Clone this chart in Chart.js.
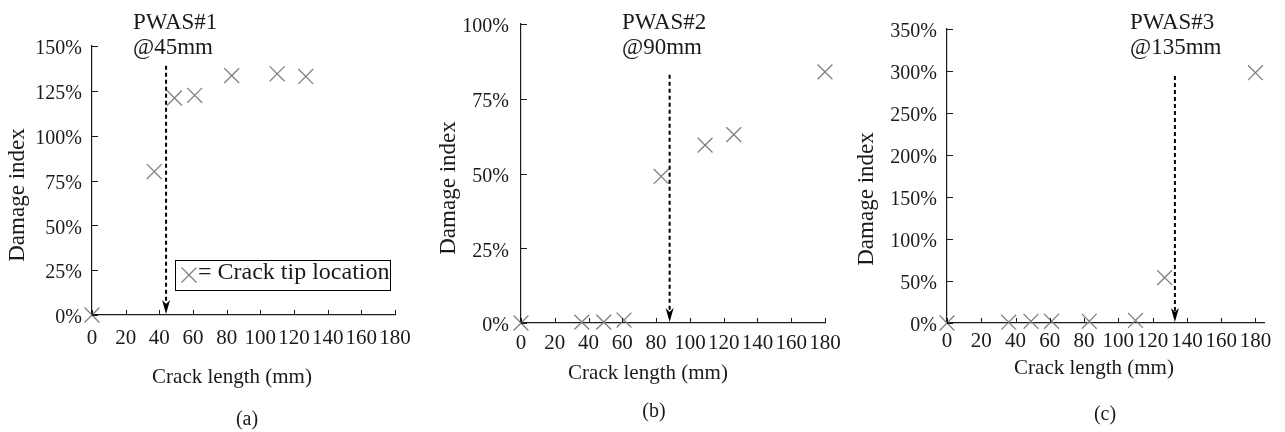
<!DOCTYPE html>
<html>
<head>
<meta charset="utf-8">
<script src="https://cdn.jsdelivr.net/npm/chart.js@4"></script>
<style>
  body { margin: 0; background: #fff; }
  #wrap { position: relative; width: 1285px; height: 432px; overflow: hidden; }
  canvas { position: absolute; top: 0; }
</style>
</head>
<body>
<div id="wrap">
  <canvas id="chartA" width="430" height="432" style="left:0px"></canvas>
  <canvas id="chartB" width="430" height="432" style="left:425px"></canvas>
  <canvas id="chartC" width="430" height="432" style="left:855px"></canvas>
</div>
<script>
// crack length (mm) vs damage index (%) for each sensor
const crackA = [0, 37, 49, 61, 83, 110, 127];
const damageA = [0, 80, 121, 122.5, 133.5, 134.5, 133];

const crackB = [0, 36, 49, 61, 83, 109, 126, 180];
const damageB = [0, 0.3, 0.3, 1, 49, 59.5, 63, 84];

const crackC = [0, 36, 49, 61, 83, 110, 127, 180];
const damageC = [0, 1, 2, 2, 2, 3, 54, 298];

// tick labels
const xTicks = [0, 20, 40, 60, 80, 100, 120, 140, 160, 180];
const yTicksA = [0, 25, 50, 75, 100, 125, 150];
const yTicksB = [0, 25, 50, 75, 100];
const yTicksC = [0, 50, 100, 150, 200, 250, 300, 350];

// sensor annotation (arrow = sensor position)
const sensorNames = ['PWAS#1', 'PWAS#2', 'PWAS#3'];
const sensorPos = ['@45mm', '@90mm', '@135mm'];
const arrowX = [44, 88, 133];
const arrowTop = [139, 83, 294];
const captions = ['(a)', '(b)', '(c)'];

const SERIF = "'Liberation Serif', 'Times New Roman', serif";
const INK = '#1a1a1a';
const MARK = '#808080';

// pixel layout for each panel (canvas local)
const layouts = [
  {area: {l: 92, t: 46, r: 395, b: 315}, xMax: 180, xPad: 11, yPad: 10, yTitle: [18, 195], xTitle: [232, 377], caption: [247, 420], textX: 133, legend: true},
  {area: {l: 96, t: 15, r: 400, b: 323}, xMax: 180, xPad: 8, yPad: 12, yTitle: [24, 188], xTitle: [223, 373], caption: [229, 412], textX: 197, legend: false},
  {area: {l: 92, t: 29, r: 409, b: 323}, xMax: 185, xPad: 6, yPad: 10, yTitle: [12, 199], xTitle: [239, 368], caption: [250, 415], textX: 275, legend: false},
];

function drawCross(ctx, x, y, h) {
  ctx.beginPath();
  ctx.moveTo(x - h, y - h);
  ctx.lineTo(x + h, y + h);
  ctx.moveTo(x + h, y - h);
  ctx.lineTo(x - h, y + h);
  ctx.stroke();
}

// draws inward ticks, sensor arrow, and the text bits
function overlayPlugin(i) {
  const lay = layouts[i];
  return {
    id: 'overlay' + i,
    afterDraw(chart) {
      const ctx = chart.ctx;
      const area = chart.chartArea;
      const xs = chart.scales.x;
      const ys = chart.scales.y;
      ctx.save();

      // inward tick marks
      ctx.strokeStyle = INK;
      ctx.lineWidth = 1;
      ctx.beginPath();
      xs.ticks.forEach(t => {
        const px = Math.round(xs.getPixelForValue(t.value)) + 0.5;
        ctx.moveTo(px, area.bottom);
        ctx.lineTo(px, area.bottom - 5);
      });
      ys.ticks.forEach(t => {
        const py = Math.round(ys.getPixelForValue(t.value)) + 0.5;
        ctx.moveTo(area.left, py);
        ctx.lineTo(area.left + 6, py);
      });
      ctx.stroke();

      // dashed arrow down to the sensor location
      const ax = xs.getPixelForValue(arrowX[i]);
      const aTop = ys.getPixelForValue(arrowTop[i]);
      const aBot = area.bottom - 1;
      ctx.strokeStyle = '#000';
      ctx.lineWidth = 2;
      ctx.setLineDash([4, 3]);
      ctx.beginPath();
      ctx.moveTo(ax, aTop);
      ctx.lineTo(ax, aBot - 10);
      ctx.stroke();
      ctx.setLineDash([]);
      ctx.fillStyle = '#000';
      ctx.beginPath();
      ctx.moveTo(ax, aBot);
      ctx.lineTo(ax - 4, aBot - 14);
      ctx.lineTo(ax, aBot - 10);
      ctx.lineTo(ax + 4, aBot - 14);
      ctx.closePath();
      ctx.fill();

      // sensor label
      ctx.fillStyle = INK;
      ctx.font = '23px ' + SERIF;
      ctx.textAlign = 'left';
      ctx.textBaseline = 'alphabetic';
      ctx.fillText(sensorNames[i], lay.textX, 29);
      ctx.fillText(sensorPos[i], lay.textX, 54);

      // axis titles
      ctx.textAlign = 'center';
      ctx.textBaseline = 'middle';
      ctx.font = '21px ' + SERIF;
      ctx.fillText('Crack length (mm)', lay.xTitle[0], lay.xTitle[1]);
      ctx.font = '20px ' + SERIF;
      ctx.fillText(captions[i], lay.caption[0], lay.caption[1]);
      ctx.save();
      ctx.translate(lay.yTitle[0], lay.yTitle[1]);
      ctx.rotate(-Math.PI / 2);
      ctx.font = '23px ' + SERIF;
      ctx.fillText('Damage index', 0, 0);
      ctx.restore();

      // marker key box, first panel only
      if (lay.legend) {
        ctx.strokeStyle = '#000';
        ctx.lineWidth = 1;
        ctx.strokeRect(175.5, 260.5, 215, 30);
        ctx.strokeStyle = MARK;
        ctx.lineWidth = 1.3;
        drawCross(ctx, 189, 275, 7.5);
        ctx.fillStyle = INK;
        ctx.textAlign = 'left';
        ctx.textBaseline = 'alphabetic';
        ctx.font = '24px ' + SERIF;
        ctx.fillText('= Crack tip location', 198, 279);
      }
      ctx.restore();
    }
  };
}

function makeChart(canvasId, i, crack, damage, yTicks) {
  const lay = layouts[i];
  const points = crack.map((c, k) => ({x: c, y: damage[k]}));

  const data = {
    datasets: [
      {
        data: points,
        pointStyle: 'crossRot',
        pointRadius: 10.5,
        pointBorderWidth: 1.3,
        borderColor: MARK,
        backgroundColor: MARK,
        showLine: false,
        clip: false
      }
    ]
  };

  const options = {
    responsive: false,
    animation: false,
    events: [],
    layout: {
      padding: {left: 0, top: lay.area.t, right: 430 - lay.area.r, bottom: 0}
    },
    plugins: {
      legend: {display: false},
      tooltip: {enabled: false}
    },
    scales: {
      x: {
        type: 'linear',
        min: 0,
        max: lay.xMax,
        afterBuildTicks: s => { s.ticks = xTicks.map(v => ({value: v})); },
        afterFit: s => { s.height = 432 - lay.area.b; },
        ticks: {
          autoSkip: false,
          maxRotation: 0,
          padding: lay.xPad,
          color: INK,
          font: {family: SERIF, size: 21}
        },
        grid: {display: false, drawTicks: false},
        border: {display: true, color: INK, width: 1.2}
      },
      y: {
        type: 'linear',
        min: 0,
        max: yTicks[yTicks.length - 1],
        afterBuildTicks: s => { s.ticks = yTicks.map(v => ({value: v})); },
        afterFit: s => { s.width = lay.area.l; },
        ticks: {
          padding: lay.yPad,
          labelOffset: 3,
          color: INK,
          font: {family: SERIF, size: 20},
          callback: v => v + '%'
        },
        grid: {display: false, drawTicks: false},
        border: {display: true, color: INK, width: 1.2}
      }
    }
  };

  return new Chart(document.getElementById(canvasId), {
    type: 'scatter',
    data,
    options,
    plugins: [overlayPlugin(i)]
  });
}

makeChart('chartA', 0, crackA, damageA, yTicksA);
makeChart('chartB', 1, crackB, damageB, yTicksB);
makeChart('chartC', 2, crackC, damageC, yTicksC);
</script>
</body>
</html>
